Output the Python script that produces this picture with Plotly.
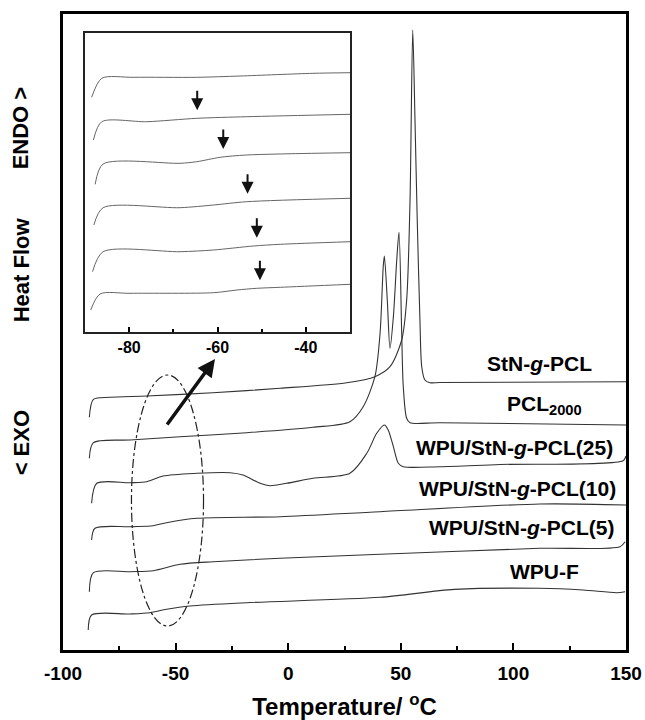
import numpy as np
import plotly.graph_objects as go

# main DSC curves (temperature in C, heat flow in arbitrary units, stacked)
stn_t = [-88.3, -86.5, -79.1, -62.8, -33.4, -3.6, 26.0, 38.5, 45.2, 50.4, 52.6, 54.1, 55.3,
         56.3, 57.3, 58.5, 59.3, 60.7, 63.0, 67.4, 150]
stn_hf = [232.7, 250.7, 252.7, 254, 257.3, 261.7, 267.3, 273.3, 283.3, 310, 350, 450, 620,
          530, 430, 330, 283.3, 270, 267.3, 267.5, 268.3]

pcl_t = [-88.3, -86.5, -70.2, -48.0, -18.4, 11.0, 27.4, 33.3, 38.5, 40.8, 42.2, 42.7, 44.0,
         45.2, 46.7, 48.2, 49.2, 50.4, 51.1, 52.6, 54.1, 67.4, 150]
pcl_hf = [191.7, 207.3, 210, 213.3, 217.3, 222.7, 228.3, 243.3, 273.3, 317, 383.3, 394, 350,
          301.7, 333.3, 390, 417.7, 317, 263.3, 231.7, 227.3, 227.3, 225]

w25_t = [-87.3, -85.0, -70.2, -62.8, -55.6, -40.6, -25.8, -20.1, -12.5, -8.1, -0.7, 11.0,
         27.4, 34.9, 39.3, 42.7, 44.4, 46.7, 48.9, 51.1, 67.4, 94.0, 148.7, 150]
w25_hf = [146.7, 166.7, 167.3, 168.3, 174, 176.7, 177.3, 175, 166.7, 164.3, 166.7, 171.7,
          176.7, 196.7, 216.7, 225, 220, 203.3, 186.7, 183.3, 183.3, 185.5, 189.3, 194]

w10_t = [-87.3, -85.8, -70.2, -60.0, -54.0, -40.6, -3.6, 40.8, 111.8, 150]
w10_hf = [110, 121.7, 123.3, 124.3, 127.3, 131.7, 133.3, 138.3, 146, 145]

w5_t = [-88.3, -86.5, -70.2, -59.9, -48.0, -33.3, -3.6, 40.8, 111.8, 147.3, 149.6]
w5_hf = [58.3, 77.3, 78.3, 79.3, 85.7, 88.3, 91.7, 95.7, 101.7, 103.3, 108.3]

wf_t = [-88.8, -87.3, -70.2, -61.4, -54.0, -43.6, -18.4, 40.8, 73.8, 111.8, 130.9, 145.9, 149.6]
wf_hf = [20, 35, 36, 37.3, 40.7, 44, 47.3, 52.7, 60.6, 61.7, 60, 57.3, 58.3]

# inset (glass transition region)
i1_t = [-88.5, -86.2, -79.1, -64.7, -54.9, -38.4, -30]
i1_hf = [234.7, 253.7, 254.7, 254.7, 256, 258.7, 259.3]
i2_t = [-88.1, -86.2, -76.0, -64.7, -53.4, -30]
i2_hf = [192, 210.3, 210.3, 213.7, 215.3, 217.7]
i3_t = [-87.7, -85.9, -68.5, -64.7, -59.4, -53.4, -30]
i3_hf = [147.7, 168, 168.7, 170.3, 174.7, 177, 179.3]
i4_t = [-88.0, -85.9, -68.5, -60.9, -53.4, -30]
i4_hf = [107, 124.3, 124.3, 127, 130.3, 133.7]
i5_t = [-88.3, -85.9, -68.5, -60.9, -51.9, -45.8, -30]
i5_hf = [60.3, 80.3, 80.3, 82, 86, 87.7, 90.3]
i6_t = [-88.7, -86.6, -79.8, -60.9, -55.6, -51.1, -45.8, -30]
i6_hf = [22, 38, 38.7, 39.3, 42, 43.7, 44.7, 47.7]

# Tg marked by arrows (curves 2..6 of the inset)
tg_values = [-64.6, -58.7, -53.2, -51.1, -50.4]

labels = ["StN-<i>g</i>-PCL", "PCL<sub>2000</sub>", "WPU/StN-<i>g</i>-PCL(25)",
          "WPU/StN-<i>g</i>-PCL(10)", "WPU/StN-<i>g</i>-PCL(5)", "WPU-F"]

main_ticks = [-100, -50, 0, 50, 100, 150]
inset_ticks = [-80, -60, -40]

FONT = "Liberation Sans, Arial, sans-serif"

fig = go.Figure()

main_curves = [(stn_t, stn_hf), (pcl_t, pcl_hf), (w25_t, w25_hf),
               (w10_t, w10_hf), (w5_t, w5_hf), (wf_t, wf_hf)]
for t, hf in main_curves:
    fig.add_trace(go.Scatter(x=t, y=hf, mode="lines",
                             line=dict(color="#333333", width=1.1, shape="spline", smoothing=0.8),
                             showlegend=False))

inset_curves = [(i1_t, i1_hf), (i2_t, i2_hf), (i3_t, i3_hf),
                (i4_t, i4_hf), (i5_t, i5_hf), (i6_t, i6_hf)]
for t, hf in inset_curves:
    fig.add_trace(go.Scatter(x=t, y=hf, mode="lines", xaxis="x2", yaxis="y2",
                             line=dict(color="#666666", width=1, shape="spline", smoothing=0.8),
                             showlegend=False))

# curve labels
label_pos = [(111.8, 287), (114, 245), (100.4, 203), (101.7, 162), (103.9, 123), (113.7, 79)]
for txt, (lx, ly) in zip(labels, label_pos):
    fig.add_annotation(x=lx, y=ly, text=f"<b>{txt}</b>", showarrow=False,
                       font=dict(family=FONT, size=21, color="black", weight="bold"))

# arrows in the inset
for k, tg in enumerate(tg_values):
    t, hf = inset_curves[k + 1]
    tip = np.interp(tg, t, hf) + 8
    fig.add_annotation(x=tg, y=tip, xref="x2", yref="y2", text="", showarrow=True,
                       ax=0, ay=-21, arrowhead=2, arrowsize=1.2, arrowwidth=2,
                       arrowcolor="#111111", standoff=0)

# big arrow from the ellipse to the inset
fig.add_annotation(x=-32.5, y=291, xref="x", yref="y", text="", showarrow=True,
                   ax=-49, ay=67, arrowhead=2, arrowsize=1, arrowwidth=3.5,
                   arrowcolor="#111111", standoff=0)

# dash-dot ellipse around the Tg region
fig.add_shape(type="circle", xref="x", yref="y", x0=-69.6, x1=-37.6, y0=24, y1=275,
              line=dict(color="#222222", width=1.2, dash="dashdot"))

# y axis title pieces
for txt, py in [("ENDO >", 128), ("Heat Flow", 270), ("< EXO", 443)]:
    fig.add_annotation(x=-0.074, y=(650 - py) / 636, xref="paper", yref="paper",
                       xanchor="center", yanchor="middle",
                       text=f"<b>{txt}</b>", showarrow=False, textangle=-90,
                       font=dict(family=FONT, size=22, color="black", weight="bold"))

fig.update_layout(
    width=645, height=720,
    margin=dict(l=63, r=19, t=14, b=70),
    paper_bgcolor="white", plot_bgcolor="white",
    font=dict(family=FONT, color="black"),
    xaxis=dict(range=[-100, 150], tickvals=main_ticks,
               ticktext=[f"<b>{v}</b>" for v in main_ticks],
               ticks="inside", ticklen=7, tickwidth=2, tickcolor="black",
               showline=True, mirror=True, linewidth=2.7, linecolor="black",
               showgrid=False, zeroline=False, automargin=False,
               ticklabelstandoff=4,
               tickfont=dict(family=FONT, size=19, weight="bold"),
               minor=dict(ticks="inside", ticklen=4, tickwidth=2, tickcolor="black",
                          tickvals=[-75, -25, 25, 75, 125]),
               title=dict(text="<b>Temperature/ <sup>o</sup>C</b>",
                          font=dict(family=FONT, size=24, weight="bold"), standoff=18)),
    yaxis=dict(range=[0, 636], showticklabels=False, ticks="", automargin=False,
               showline=True, mirror=True, linewidth=2.7, linecolor="black",
               showgrid=False, zeroline=False),
    xaxis2=dict(domain=[0.0391, 0.5098], anchor="y2", range=[-90, -30],
                tickvals=inset_ticks, ticktext=[f"<b>{v}</b>" for v in inset_ticks],
                ticks="inside", ticklen=5, tickwidth=1.5,
                tickcolor="black", showline=True, mirror=True, linewidth=1.6,
                linecolor="#222222", showgrid=False, zeroline=False,
                tickfont=dict(family=FONT, size=16, weight="bold"),
                minor=dict(ticks="inside", ticklen=3, tickwidth=1.5, tickcolor="black",
                           tickvals=[-70, -50])),
    yaxis2=dict(domain=[0.5, 0.9701], anchor="x2", range=[0, 299],
                showticklabels=False, ticks="", showline=True, mirror=True,
                linewidth=1.6, linecolor="#222222", showgrid=False, zeroline=False),
)

# drop the browser's default page margin so the figure sits at the window origin
fig.write_html("out.html", config={"displayModeBar": False},
               post_script="document.body.style.margin='0';")
